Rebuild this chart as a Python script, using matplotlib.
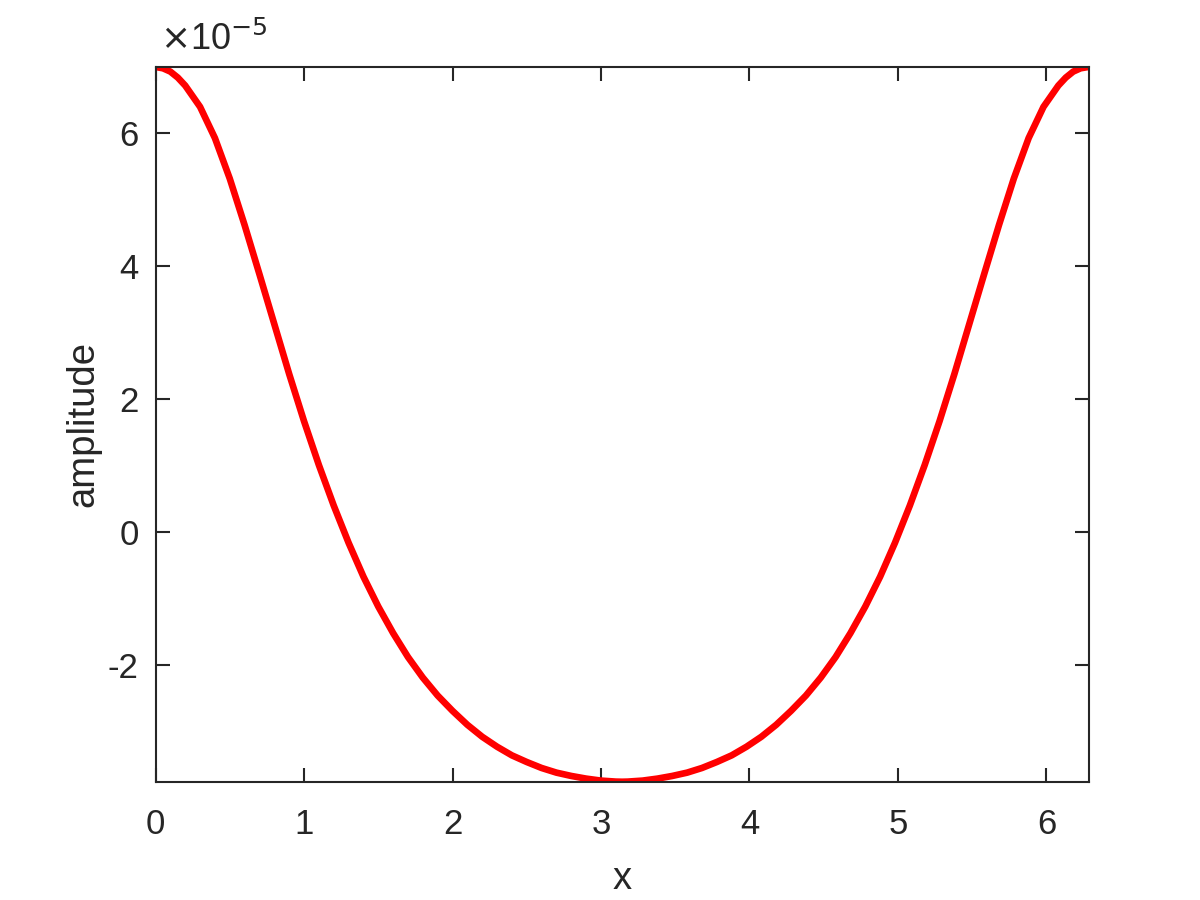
import numpy as np
import matplotlib
matplotlib.use('Agg')
import matplotlib.pyplot as plt
from matplotlib.ticker import FuncFormatter

plt.rcParams['font.family'] = ['Liberation Sans', 'DejaVu Sans']
plt.rcParams['axes.unicode_minus'] = False

# Values (x in rad, amplitude in units of 1e-5)
x_vals = [0.0, 0.05, 0.1, 0.15, 0.2, 0.3, 0.4, 0.5, 0.6, 0.7, 0.8, 0.9,
          1.0, 1.1, 1.2, 1.3, 1.4, 1.5, 1.6, 1.7, 1.8, 1.9,
          2.0, 2.1, 2.2, 2.3, 2.4, 2.5, 2.6, 2.7, 2.8, 2.9,
          3.0, 3.1, 3.1416,
          3.18, 3.28, 3.38, 3.48, 3.58, 3.68, 3.78, 3.88, 3.98, 4.08,
          4.18, 4.28, 4.38, 4.48, 4.58, 4.68, 4.78, 4.88, 4.98, 5.08,
          5.18, 5.28, 5.38, 5.48, 5.58, 5.68, 5.78, 5.88, 5.98, 6.08,
          6.13, 6.18, 6.23, 6.2832]
amp_vals = [7.00, 6.98, 6.93, 6.84, 6.72, 6.40, 5.93, 5.32, 4.62, 3.88, 3.13, 2.38,
            1.67, 1.01, 0.40, -0.16, -0.67, -1.12, -1.52, -1.88, -2.19, -2.46,
            -2.69, -2.90, -3.08, -3.23, -3.36, -3.46, -3.55, -3.62, -3.67, -3.71,
            -3.74, -3.755, -3.757,
            -3.755, -3.74, -3.71, -3.67, -3.62, -3.55, -3.46, -3.36, -3.23, -3.08,
            -2.90, -2.69, -2.46, -2.19, -1.88, -1.52, -1.12, -0.67, -0.16, 0.40,
            1.01, 1.67, 2.38, 3.13, 3.88, 4.62, 5.32, 5.93, 6.40, 6.72,
            6.84, 6.93, 6.98, 7.00]
x_ticks = [0, 1, 2, 3, 4, 5, 6]
y_ticks = [-2, 0, 2, 4, 6]
scale = 1e-5

x = np.array(x_vals)
y = np.array(amp_vals) * scale

fig = plt.figure(figsize=(12, 9), dpi=100)
ax = fig.add_axes([0.1296, 0.1314, 0.7775, 0.7942])

ax.plot(x, y, color='#ff0000', linewidth=4.8, solid_capstyle='round',
        solid_joinstyle='round')

ax.set_xlim(x.min(), x.max())
ax.set_ylim(y.min(), y.max())
ax.set_xticks(x_ticks)
ax.set_yticks([t * scale for t in y_ticks])
ax.yaxis.set_major_formatter(FuncFormatter(lambda v, p: '%g' % round(v / scale, 6)))

axcol = '#262626'
for s in ax.spines.values():
    s.set_color(axcol)
    s.set_linewidth(1.5)
ax.tick_params(direction='in', length=10, width=1.5, colors=axcol,
               labelsize=25, top=True, right=True)
ax.tick_params(axis='x', pad=19)
ax.tick_params(axis='y', pad=12)

ax.set_xlabel('x', fontsize=27.5, color=axcol, labelpad=14)
ax.set_ylabel('amplitude', fontsize=27.5, color=axcol, labelpad=5)

# MATLAB style exponent label at the top-left corner
ax.text(0.005, 1.012, r'$\times$10$^{-5}$', transform=ax.transAxes,
        fontsize=26, color=axcol, ha='left', va='bottom')

fig.savefig('out.png', dpi=100)
